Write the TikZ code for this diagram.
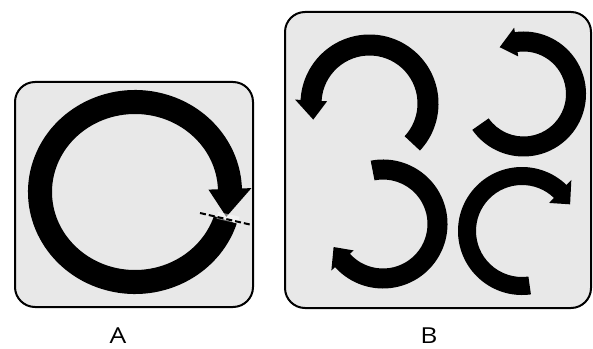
\documentclass[tikz,border=0pt]{standalone}
\usepackage{fontspec}
\setmainfont{Open Sans}

% thick curved arrow: centre, x radius, y radius, half width,
% tail angle, head base angle, tip angle, head half width
\newcommand\bentarrow[8]{%
  \fill[shift={#1}]
    (#5:{#2+#4} and {#3+#4})
      arc[start angle=#5, end angle=#6, x radius={#2+#4}, y radius={#3+#4}]
    -- (#6:{#2+#8} and {#3+#8}) -- (#7:#2 and #3) -- (#6:{#2-#8} and {#3-#8})
    -- (#6:{#2-#4} and {#3-#4})
      arc[start angle=#6, end angle=#5, x radius={#2-#4}, y radius={#3-#4}]
    -- cycle;}

\tikzset{
  panel/.style={fill=gray!18, draw=black, line width=2pt, rounded corners=20pt},
  caption/.style={font=\fontsize{22}{25}\selectfont, anchor=base, inner sep=0pt}
}

\begin{document}
\begin{tikzpicture}[x=1pt,y=1pt]
	\useasboundingbox (0,0) rectangle (593,348);
	% the two panels
	\draw[panel] (15,41) rectangle (253,266);
	\draw[panel] (285,40) rectangle (591,336);

	% A: one ring, closing on itself
	\bentarrow{(135,156)}{95}{90}{12}{-18}{-358}{-376}{21.5}
	\coordinate (cutL) at (200,135);
	\coordinate (cutR) at (252,123);
	\fill[white, opacity=.5, rotate around={-13:(227,130)}] (217,127) rectangle (239,134);
	\draw[line width=2pt, dash pattern=on 6pt off 3pt] (cutL) -- (cutR);

	% B: four open arcs
	\bentarrow{(369.5,244.5)}{58.5}{58.5}{10.5}{-43}{177}{196}{16}
	\bentarrow{(523.5,254)}{52.5}{52.5}{10}{215}{458}{477}{14.5}
	\bentarrow{(383,124)}{54.5}{54.5}{10}{101}{-138}{-155}{15}
	\bentarrow{(522,117)}{55}{55}{9}{278}{46}{29}{16}

	\node[caption] (labA) at (118,5) {\scalebox{1.2}[1]{A}};
	\node[caption] (labB) at (429,5) {\scalebox{1.2}[1]{B}};
\end{tikzpicture}
\end{document}
